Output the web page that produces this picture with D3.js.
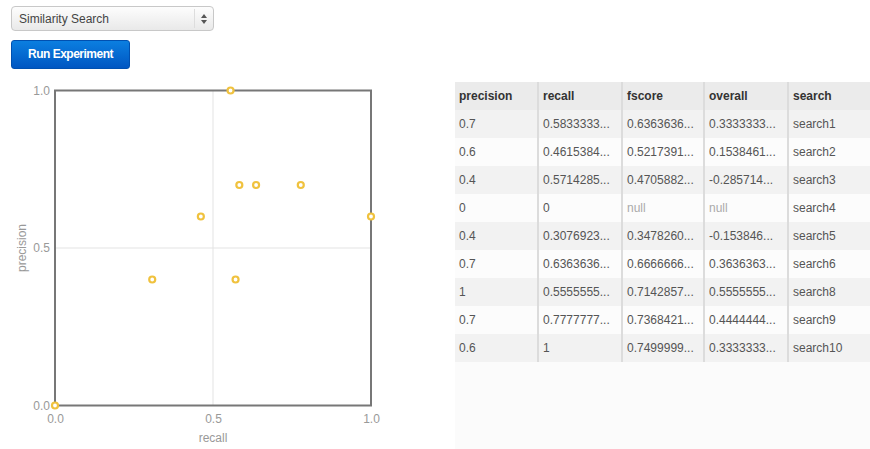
<!DOCTYPE html>
<html>
<head>
<meta charset="utf-8">
<script src="https://cdn.jsdelivr.net/npm/d3@7"></script>
<style>
  body { margin: 0; width: 870px; height: 449px; background: #fff; font-family: "Liberation Sans", Helvetica, Arial, sans-serif; position: relative; overflow: hidden; }
  .select { position: absolute; left: 11px; top: 6px; width: 203px; height: 25px; border: 1px solid #c8c8c8; border-radius: 4px;
    background: linear-gradient(#fdfdfd, #e9e9e9); box-sizing: border-box; font-size: 12px; color: #444; }
  .select span { position: absolute; left: 7px; top: 5px; }
  .select .div { position: absolute; right: 18px; top: 2px; bottom: 2px; border-left: 1px solid #ddd; }
  .select svg { position: absolute; right: 5px; top: 6px; }
  .btn { position: absolute; left: 11px; top: 40px; width: 119px; height: 29px; border-radius: 3px; box-sizing: border-box;
    background: linear-gradient(#0b7fe0, #0056c2); border: 1px solid #0050b0; color: #fff; font-weight: bold; font-size: 12px;
    letter-spacing: -0.5px; text-align: center; line-height: 27px; }
  #tablebox { position: absolute; left: 455px; top: 82px; width: 415px; height: 367px; background: #fbfbfb; }
  table { border-collapse: collapse; font-size: 12px; table-layout: fixed; }
  th, td { height: 28px; padding: 0 0 0 4px; text-align: left; white-space: nowrap; overflow: hidden; color: #555; box-sizing: border-box; }
  th { background: #ebebeb; color: #333; font-weight: bold; }
  td + td, th + th { border-left: 2px solid #dcdcdc; }
  td.null { color: #aaa; }
  tr.odd td { background: #f2f2f2; }
  tr.even td { background: #fcfcfc; }
  #chart { position: absolute; left: 0; top: 0; }
</style>
</head>
<body>
<div class="select"><span>Similarity Search</span><div class="div"></div>
  <svg width="8" height="12"><path d="M1,5 L4,1 L7,5 Z M1,7 L4,11 L7,7 Z" fill="#555"/></svg></div>
<div class="btn">Run Experiment</div>
<svg id="chart" width="450" height="449"></svg>
<div id="tablebox"></div>
<script>
// data
const searches = ["search1", "search2", "search3", "search4", "search5", "search6", "search8", "search9", "search10"];
const precision = [0.7, 0.6, 0.4, 0, 0.4, 0.7, 1, 0.7, 0.6];
const recall = [0.5833333333333334, 0.46153846153846156, 0.5714285714285714, 0, 0.3076923076923077, 0.6363636363636364, 0.5555555555555556, 0.7777777777777778, 1];
const fscore = [0.6363636363636364, 0.5217391304347826, 0.47058823529411764, null, 0.34782608695652173, 0.6666666666666666, 0.7142857142857143, 0.7368421052631579, 0.7499999999999999];
const overall = [0.3333333333333333, 0.15384615384615385, -0.2857142857142857, null, -0.15384615384615385, 0.36363636363636365, 0.5555555555555556, 0.4444444444444444, 0.33333333333333326];
const columns = ["precision", "recall", "fscore", "overall", "search"];
const colWidths = [83, 84, 82, 84, 82];
const ticks = [0, 0.5, 1];

const rows = searches.map((s, i) => ({
  precision: precision[i], recall: recall[i], fscore: fscore[i], overall: overall[i], search: s
}));

////////////////////////////  Chart  ////////////////////////////
const svg = d3.select("#chart");
const margin = { left: 55, right: 371, top: 90.5, bottom: 405.5 };

const xScale = d3.scaleLinear().domain([0, 1]).range([margin.left, margin.right]);
const yScale = d3.scaleLinear().domain([0, 1]).range([margin.bottom, margin.top]);

// grid
svg.append("g")
  .selectAll("line")
  .data([0.5])
  .join("line")
  .attr("x1", (d) => xScale(d)).attr("x2", (d) => xScale(d))
  .attr("y1", margin.top).attr("y2", margin.bottom)
  .attr("stroke", "#e3e3e3");
svg.append("g")
  .selectAll("line")
  .data([0.5])
  .join("line")
  .attr("y1", (d) => yScale(d)).attr("y2", (d) => yScale(d))
  .attr("x1", margin.left).attr("x2", margin.right)
  .attr("stroke", "#e3e3e3");

// frame
svg.append("rect")
  .attr("x", margin.left).attr("y", margin.top)
  .attr("width", margin.right - margin.left).attr("height", margin.bottom - margin.top)
  .attr("fill", "none").attr("stroke", "#777").attr("stroke-width", 2);

// axes
const xAxis = d3.axisBottom(xScale).tickValues(ticks).tickFormat(d3.format(".1f")).tickSize(0).tickPadding(9);
const yAxis = d3.axisLeft(yScale).tickValues(ticks).tickFormat(d3.format(".1f")).tickSize(0).tickPadding(5);

svg.append("g").attr("transform", `translate(0,${margin.bottom})`).call(xAxis)
  .call((g) => g.select(".domain").remove())
  .selectAll("text").attr("fill", "#999").style("font-size", "12px").style("font-family", "Liberation Sans, Helvetica, sans-serif");
svg.append("g").attr("transform", `translate(${margin.left},0)`).call(yAxis)
  .call((g) => g.select(".domain").remove())
  .selectAll("text").attr("fill", "#999").style("font-size", "12px").style("font-family", "Liberation Sans, Helvetica, sans-serif");

svg.append("text")
  .attr("x", (margin.left + margin.right) / 2).attr("y", 442)
  .attr("text-anchor", "middle").attr("fill", "#999").style("font-size", "12px")
  .text("recall");
svg.append("text")
  .attr("transform", `translate(26,${(margin.top + margin.bottom) / 2}) rotate(-90)`)
  .attr("text-anchor", "middle").attr("fill", "#999").style("font-size", "12px")
  .text("precision");

// points
svg.append("g")
  .selectAll("circle")
  .data(rows)
  .join("circle")
  .attr("cx", (d) => xScale(d.recall))
  .attr("cy", (d) => yScale(d.precision))
  .attr("r", 3)
  .attr("fill", "#fff")
  .attr("stroke", "#f0c23e")
  .attr("stroke-width", 2.2);

////////////////////////////  Table  ////////////////////////////
const fmt = (v) => {
  const s = String(v);
  return s.length > 10 ? s.slice(0, 9) + "..." : s;
};

const table = d3.select("#tablebox").append("table");
table.append("colgroup").selectAll("col").data(colWidths).join("col").style("width", (d) => d + "px");
table.append("thead").append("tr").selectAll("th").data(columns).join("th").text((d) => d);
table.append("tbody")
  .selectAll("tr")
  .data(rows)
  .join("tr")
  .attr("class", (d, i) => (i % 2 ? "even" : "odd"))
  .selectAll("td")
  .data((d) => columns.map((c) => d[c]))
  .join("td")
  .classed("null", (d) => d === null)
  .text((d) => fmt(d));
</script>
</body>
</html>
